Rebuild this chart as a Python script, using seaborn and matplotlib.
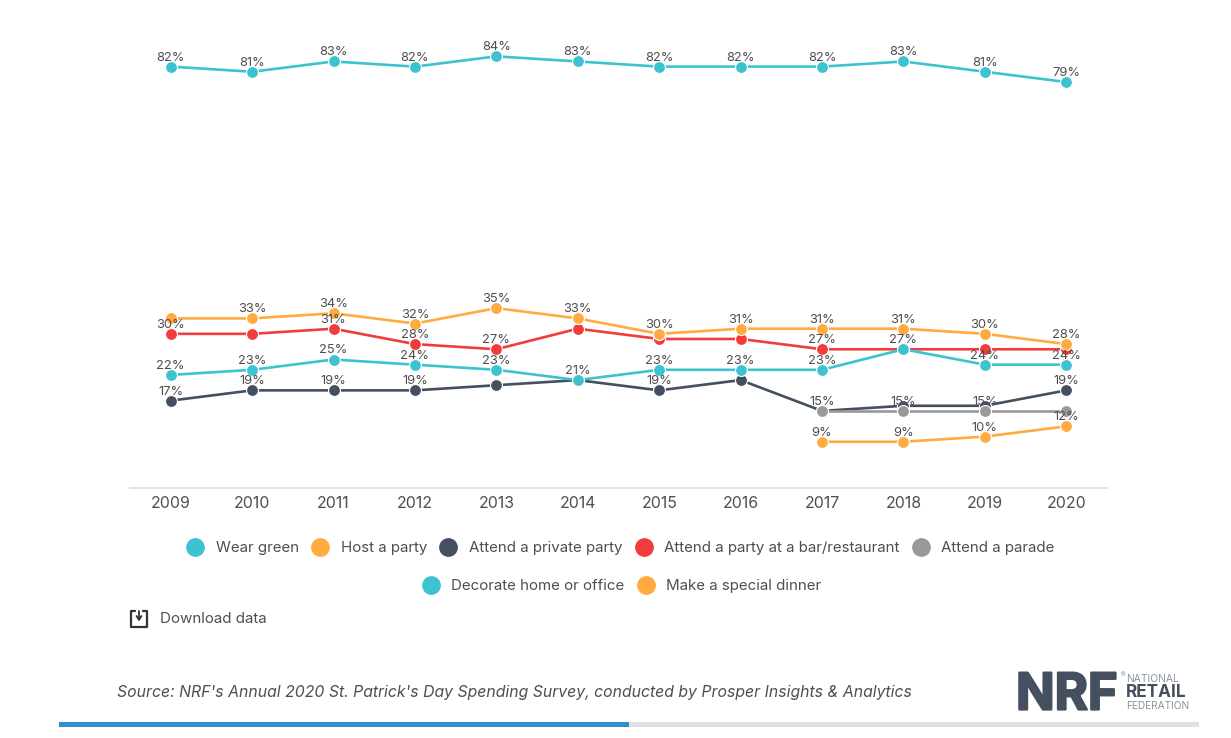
import pandas as pd
import matplotlib.pyplot as plt
import matplotlib.patheffects as pe
import seaborn as sns
from matplotlib.lines import Line2D
from matplotlib.patches import Rectangle

years = [2009, 2010, 2011, 2012, 2013, 2014, 2015, 2016, 2017, 2018, 2019, 2020]
blank = [None] * 8

wear_green = [82, 81, 83, 82, 84, 83, 82, 82, 82, 83, 81, 79]
host_party = [33, 33, 34, 32, 35, 33, 30, 31, 31, 31, 30, 28]
private_party = [17, 19, 19, 19, 20, 21, 19, 21, 15, 16, 16, 19]
bar_party = [30, 30, 31, 28, 27, 31, 29, 29, 27, 27, 27, 27]
decorate = [22, 23, 25, 24, 23, 21, 23, 23, 23, 27, 24, 24]
parade = blank + [15, 15, 15, 15]
dinner = blank + [9, 9, 10, 12]

# years whose data label is visible in the original (the rest were hidden by overlap)
host_labels = years[1:]
private_labels = [2009, 2010, 2011, 2012, 2015, 2020]
bar_labels = [2009, 2011, 2012, 2013, 2017]
parade_labels = [2017, 2018, 2019]
dinner_labels = years[8:]

TEAL = "#3cc3cf"
ORANGE = "#ffab40"
NAVY = "#44505f"
RED = "#f23c3c"
GREY = "#999999"
TEXT = "#4f4f4f"

# name, values, colour, labelled years, z-order
series = [
    ("Wear green", wear_green, TEAL, years, 2),
    ("Attend a party at a bar/restaurant", bar_party, RED, bar_labels, 3),
    ("Host a party", host_party, ORANGE, host_labels, 4),
    ("Attend a private party", private_party, NAVY, private_labels, 5),
    ("Attend a parade", parade, GREY, parade_labels, 6),
    ("Decorate home or office", decorate, TEAL, years, 7),
    ("Make a special dinner", dinner, ORANGE, dinner_labels, 8),
]
legend_row1 = ["Wear green", "Host a party", "Attend a private party",
               "Attend a party at a bar/restaurant", "Attend a parade"]
legend_row2 = ["Decorate home or office", "Make a special dinner"]

sns.set_theme(style="white")
plt.rcParams["font.family"] = ["Inter", "DejaVu Sans"]

W, H = 1231, 738
fig = plt.figure(figsize=(W / 100, H / 100), dpi=100)
ax = fig.add_axes([130 / W, (H - 488) / H, 977 / W, 462.5 / H])

for name, values, color, labelled, z in series:
    df = pd.DataFrame({"year": years, "value": values}).dropna()
    sns.lineplot(data=df, x="year", y="value", color=color, linewidth=1.9, marker="o",
                 markersize=8.6, markeredgecolor="white", markeredgewidth=0.8,
                 errorbar=None, legend=False, zorder=z, ax=ax)
    for _, row in df.iterrows():
        if row["year"] in labelled:
            ax.annotate(f"{row['value']:.0f}%", (row["year"], row["value"]), xytext=(0, 6.5),
                        textcoords="offset points", ha="center", va="center",
                        fontsize=9.3, color=TEXT, zorder=20)

ax.set_xlim(2008.5, 2020.5)
ax.set_ylim(0, 90)
ax.set_xticks(years)
ax.set_yticks([])
ax.set_xlabel("")
ax.set_ylabel("")
ax.tick_params(axis="x", length=0, pad=6, labelsize=11.4, labelcolor=TEXT)
sns.despine(ax=ax, left=True)
ax.spines["bottom"].set_color("#e2e2e2")
ax.spines["bottom"].set_linewidth(1.5)

colors = {s[0]: s[2] for s in series}


def add_legend(names, y_px, x_px):
    handles = [Line2D([], [], linestyle="none", marker="o", markersize=13.5,
                      markerfacecolor=colors[n], markeredgecolor="none") for n in names]
    return fig.legend(handles, names, loc="center", bbox_to_anchor=(x_px / W, (H - y_px) / H),
                      ncol=len(names), frameon=False, fontsize=10.85, handletextpad=0.55,
                      columnspacing=0.62, labelcolor=TEXT, borderpad=0, handlelength=1.6)


add_legend(legend_row1, 548, 619)
add_legend(legend_row2, 586, 620)


def px_line(xs, ys, **kw):
    fig.add_artist(Line2D([x / W for x in xs], [(H - y) / H for y in ys], **kw))


# download icon
px_line([135, 131, 131, 147, 147, 143], [611, 611, 627, 627, 611, 611], color="#333333", lw=1.6)
px_line([139, 139], [611, 619], color="#333333", lw=1.3)
px_line([136.5, 139, 141.5], [616, 620, 616], color="#333333", lw=1.3)
fig.text(160 / W, (H - 619) / H, "Download data", fontsize=10.9, color=TEXT, va="center")

fig.text(117 / W, (H - 692.5) / H, "Source: NRF's Annual 2020 St. Patrick's Day Spending Survey, conducted by Prosper Insights & Analytics",
         fontsize=11.37, style="italic", color=TEXT, va="center")

# logo
fig.text(1016 / W, (H - 696) / H, "NRF", fontsize=36.5, fontweight="bold", color=NAVY, va="center",
         path_effects=[pe.withStroke(linewidth=1.6, foreground=NAVY)])
fig.text(1121 / W, (H - 675) / H, "®", fontsize=5, color="#8a949e", va="center")
fig.text(1126 / W, (H - 678.5) / H, "NATIONAL", fontsize=7.4, color="#8a949e", va="center")
fig.text(1126 / W, (H - 692.5) / H, "RETAIL", fontsize=12.4, fontweight="bold", color=NAVY, va="center")
fig.text(1126 / W, (H - 706) / H, "FEDERATION", fontsize=7.3, color="#8a949e", va="center")

# progress bar
fig.add_artist(Rectangle((59 / W, (H - 727) / H), 570 / W, 5 / H, transform=fig.transFigure, color="#2e90cc", lw=0))
fig.add_artist(Rectangle((629 / W, (H - 727) / H), 570 / W, 5 / H, transform=fig.transFigure, color="#e0e0e0", lw=0))

fig.savefig("out.png", dpi=100)
